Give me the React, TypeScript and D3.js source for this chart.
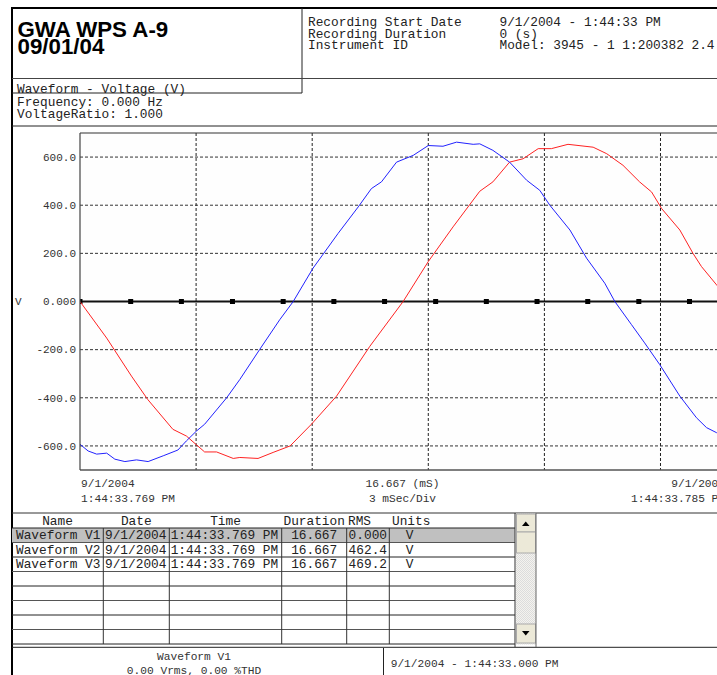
import React from "react";
import * as d3 from "d3";

// ---- Data ----
const yTicks = [600, 400, 200, 0, -200, -400, -600];
const yTickLabels = ["600.0", "400.0", "200.0", "0.000", "-200.0", "-400.0", "-600.0"];
const xGridMs = [3, 6, 9, 12, 15];
const v1MarkerTimes = [0, 1.31, 2.62, 3.94, 5.25, 6.56, 7.87, 9.19, 10.5, 11.81, 13.12, 14.44, 15.75];

// V2 (blue): [ms, volts]
const v2Points: [number, number][] = [
  [0, -593], [0.21, -621], [0.43, -634], [0.69, -630], [0.9, -655], [1.16, -665], [1.46, -658],
  [1.76, -665], [2.15, -641], [2.53, -617], [2.75, -579], [3.01, -538], [3.22, -510], [3.79, -400],
  [4.13, -324], [4.64, -200], [5.16, -76], [5.51, 0], [6.02, 138], [6.67, 283], [7.19, 393],
  [7.53, 469], [7.79, 497], [8.18, 579], [8.61, 607], [9.0, 648], [9.38, 645], [9.73, 662],
  [10.16, 653], [10.33, 655], [10.67, 628], [11.1, 579], [11.54, 504], [11.88, 462], [12.14, 400],
  [12.66, 297], [13.09, 180], [13.56, 76], [13.82, 0], [14.25, -96], [14.59, -172], [14.98, -262],
  [15.5, -393], [15.93, -483], [16.19, -524], [16.45, -545], [16.667, -555],
];

// V3 (red): [ms, volts]
const v3Points: [number, number][] = [
  [0, 0], [0.69, -152], [1.33, -310], [1.75, -407], [2.4, -531], [2.75, -559], [3.22, -625],
  [3.53, -625], [3.96, -652], [4.13, -648], [4.6, -652], [4.99, -627], [5.43, -600], [5.98, -510],
  [6.63, -393], [7.49, -186], [8.35, 0], [9.0, 166], [9.64, 310], [10.33, 458], [10.67, 497],
  [11.1, 579], [11.45, 593], [11.84, 635], [12.18, 635], [12.61, 653], [13.26, 641], [13.61, 614],
  [14.03, 566], [14.46, 497], [14.77, 455], [15.03, 386], [15.5, 297], [15.84, 200], [16.06, 145],
  [16.45, 69], [16.667, 30],
];

const headerLabels = ["Recording Start Date", "Recording Duration", "Instrument ID"];
const headerValues = ["9/1/2004 - 1:44:33 PM", "0 (s)", "Model: 3945 - 1 1:200382 2.4"];

const tableNames = ["Waveform V1", "Waveform V2", "Waveform V3"];
const tableDates = ["9/1/2004", "9/1/2004", "9/1/2004"];
const tableTimes = ["1:44:33.769 PM", "1:44:33.769 PM", "1:44:33.769 PM"];
const tableDurations = ["16.667", "16.667", "16.667"];
const tableRms = ["0.000", "462.4", "469.2"];
const tableUnits = ["V", "V", "V"];

const MONO = "'Liberation Mono', 'Courier New', monospace";
const SANS = "'Liberation Sans', Arial, sans-serif";

export default function App() {
  const W = 717, H = 675;
  const pl = 80, pr = 725, pt = 133, pb = 470;
  const x = d3.scaleLinear().domain([0, 16.667]).range([pl, pr]);
  const y = d3.scaleLinear().domain([-700, 700]).range([pb, pt]);
  const line = d3.line<[number, number]>().x((d) => x(d[0])).y((d) => y(d[1]));

  const colX = [12, 103.3, 169.3, 281.7, 346.7, 389.3, 515];
  const tableTop = 513;
  const headerBottom = 528;
  const rowH = 14.5;
  const rowLines = d3.range(0, 9).map((i) => headerBottom + i * rowH);

  const fs = 12.8;
  const txt = "#222";

  return (
    <svg width={W} height={H} style={{ position: "absolute", left: 0, top: 0, background: "#fff" }}>
      <defs>
        <clipPath id="plotClip">
          <rect x={pl} y={pt} width={pr - pl} height={pb - pt} />
        </clipPath>
        <pattern id="dots" width="2" height="2" patternUnits="userSpaceOnUse">
          <rect width="2" height="2" fill="#f4f3ee" />
          <rect width="1" height="1" fill="#dcdcdc" />
          <rect x="1" y="1" width="1" height="1" fill="#dcdcdc" />
        </pattern>
      </defs>
      <rect width={W} height={H} fill="#fff" />

      {/* Header frame */}
      <line x1={12} x2={717} y1={8} y2={8} stroke="#000" strokeWidth={2} />
      <line x1={12} x2={12} y1={7} y2={675} stroke="#000" strokeWidth={2} />
      <line x1={302} x2={302} y1={8} y2={93} stroke="#222" strokeWidth={1} />
      <line x1={12} x2={717} y1={78.5} y2={78.5} stroke="#444" strokeWidth={1.2} />
      <line x1={12} x2={717} y1={126} y2={126} stroke="#222" strokeWidth={1} />

      <text x={17.5} y={36.5} fontFamily={SANS} fontWeight="bold" fontSize={22.3} fill="#000">
        GWA WPS A-9
      </text>
      <text x={17.5} y={54} fontFamily={SANS} fontWeight="bold" fontSize={22.3} fill="#000">
        09/01/04
      </text>

      {headerLabels.map((s, i) => (
        <text key={s} x={308} y={26 + i * 11.5} fontFamily={MONO} fontSize={fs} fill={txt}>
          {s}
        </text>
      ))}
      {headerValues.map((s, i) => (
        <text key={s} x={499.5} y={26 + i * 11.5} fontFamily={MONO} fontSize={fs} fill={txt}>
          {s}
        </text>
      ))}

      <text x={17} y={92.5} fontFamily={MONO} fontSize={fs} fill={txt}>Waveform - Voltage (V)</text>
      <text x={17} y={105.5} fontFamily={MONO} fontSize={fs} fill={txt}>Frequency: 0.000 Hz</text>
      <text x={17} y={117.5} fontFamily={MONO} fontSize={fs} fill={txt}>VoltageRatio: 1.000</text>
      <line x1={12} x2={302} y1={93} y2={93} stroke="#222" strokeWidth={1} />

      {/* Plot */}
      <rect x={pl} y={pt} width={pr - pl} height={pb - pt} fill="#fefefe" />
      {yTicks.filter((v) => v !== 0).map((v) => (
        <line key={v} x1={pl} x2={pr} y1={y(v)} y2={y(v)} stroke="#333" strokeWidth={1} strokeDasharray="3,2" />
      ))}
      {xGridMs.map((t) => (
        <line key={t} x1={x(t)} x2={x(t)} y1={pt} y2={pb} stroke="#222" strokeWidth={1} strokeDasharray="3,2" />
      ))}
      <line x1={pl} x2={pr} y1={y(0)} y2={y(0)} stroke="#111" strokeWidth={2} />
      <g clipPath="url(#plotClip)">
        {v1MarkerTimes.map((t) => (
          <rect key={t} x={x(t) - 2.5} y={y(0) - 2.5} width={5} height={5} fill="#000" />
        ))}
        <path d={line(v3Points) || ""} fill="none" stroke="#f22" strokeWidth={1} />
        <path d={line(v2Points) || ""} fill="none" stroke="#22f" strokeWidth={1} />
      </g>
      <line x1={pl} x2={pr} y1={pt} y2={pt} stroke="#333" strokeWidth={1.2} />
      <line x1={pl} x2={pr} y1={pb} y2={pb} stroke="#555" strokeWidth={1.5} />
      <line x1={pl} x2={pl} y1={pt} y2={pb} stroke="#444" strokeWidth={1.2} />

      {yTicks.map((v, i) => (
        <text key={v} x={76} y={y(v)} dy="0.35em" textAnchor="end" fontFamily={MONO} fontSize={11} fill="#333">
          {yTickLabels[i]}
        </text>
      ))}
      <text x={15} y={y(0)} dy="0.35em" fontFamily={MONO} fontSize={11} fill="#333">V</text>

      <text x={81} y={487} fontFamily={MONO} fontSize={11.2} fill="#333">9/1/2004</text>
      <text x={81} y={502} fontFamily={MONO} fontSize={11.2} fill="#333">1:44:33.769 PM</text>
      <text x={(pl + pr) / 2} y={487} textAnchor="middle" fontFamily={MONO} fontSize={11.2} fill="#333">16.667 (mS)</text>
      <text x={(pl + pr) / 2} y={502} textAnchor="middle" fontFamily={MONO} fontSize={11.2} fill="#333">3 mSec/Div</text>
      <text x={pr} y={487} textAnchor="end" fontFamily={MONO} fontSize={11.2} fill="#333">9/1/2004</text>
      <text x={pr} y={502} textAnchor="end" fontFamily={MONO} fontSize={11.2} fill="#333">1:44:33.785 PM</text>

      {/* Table */}
      <line x1={12} x2={717} y1={tableTop} y2={tableTop} stroke="#333" strokeWidth={1} />
      <rect x={12} y={headerBottom} width={colX[6] - 12} height={rowH} fill="#c0c0c0" />
      {rowLines.map((ry, i) => (
        <line key={i} x1={12} x2={colX[6]} y1={ry} y2={ry} stroke={i % 2 === 0 ? "#222" : "#555"} strokeWidth={1} />
      ))}
      <line x1={12} x2={717} y1={647.3} y2={647.3} stroke="#222" strokeWidth={1} />
      {colX.slice(1, 6).map((cx) => (
        <line key={cx} x1={cx} x2={cx} y1={headerBottom} y2={rowLines[8]} stroke="#333" strokeWidth={1} />
      ))}
      <line x1={colX[6]} x2={colX[6]} y1={tableTop} y2={647} stroke="#333" strokeWidth={1} />

      {[
        ["Name", 57.5], ["Date", 136.3], ["Time", 225.5], ["Duration", 314.2],
      ].map(([s, cx]) => (
        <text key={s as string} x={cx as number} y={525} textAnchor="middle" fontFamily={MONO} fontSize={fs} fill={txt}>
          {s}
        </text>
      ))}
      <text x={348} y={525} fontFamily={MONO} fontSize={fs} fill={txt}>RMS</text>
      <text x={392} y={525} fontFamily={MONO} fontSize={fs} fill={txt}>Units</text>

      {tableNames.map((n, i) => {
        const by = headerBottom + i * rowH + 11;
        return (
          <g key={n} fontFamily={MONO} fontSize={fs} fill={txt}>
            <text x={16} y={by}>{n}</text>
            <text x={105} y={by}>{tableDates[i]}</text>
            <text x={170.7} y={by}>{tableTimes[i]}</text>
            <text x={314.2} y={by} textAnchor="middle">{tableDurations[i]}</text>
            <text x={387} y={by} textAnchor="end">{tableRms[i]}</text>
            <text x={409.5} y={by} textAnchor="middle">{tableUnits[i]}</text>
          </g>
        );
      })}

      {/* Scrollbar */}
      <rect x={516} y={513.5} width={20} height={131} fill="url(#dots)" />
      <rect x={516.5} y={514} width={19} height={18} fill="#ece9d8" stroke="#aaa" strokeWidth={1} />
      <path d="M522,526 L529.5,526 L525.75,521.5 Z" fill="#000" />
      <rect x={516.5} y={532} width={19} height={21} fill="#ece9d8" stroke="#aaa" strokeWidth={1} />
      <rect x={516.5} y={624} width={19} height={19} fill="#ece9d8" stroke="#aaa" strokeWidth={1} />
      <path d="M522,631 L529.5,631 L525.75,635.5 Z" fill="#000" />
      <line x1={536} x2={536} y1={513} y2={647} stroke="#666" strokeWidth={1} />

      {/* Bottom boxes */}
      <line x1={383.5} x2={383.5} y1={648} y2={675} stroke="#222" strokeWidth={1} />
      <text x={194} y={659.5} textAnchor="middle" fontFamily={MONO} fontSize={11.2} fill="#333">Waveform V1</text>
      <text x={194} y={673.5} textAnchor="middle" fontFamily={MONO} fontSize={11.2} fill="#333">0.00 Vrms, 0.00 %THD</text>
      <text x={390.7} y={666.5} fontFamily={MONO} fontSize={11.2} fill="#333">9/1/2004 - 1:44:33.000 PM</text>
    </svg>
  );
}
